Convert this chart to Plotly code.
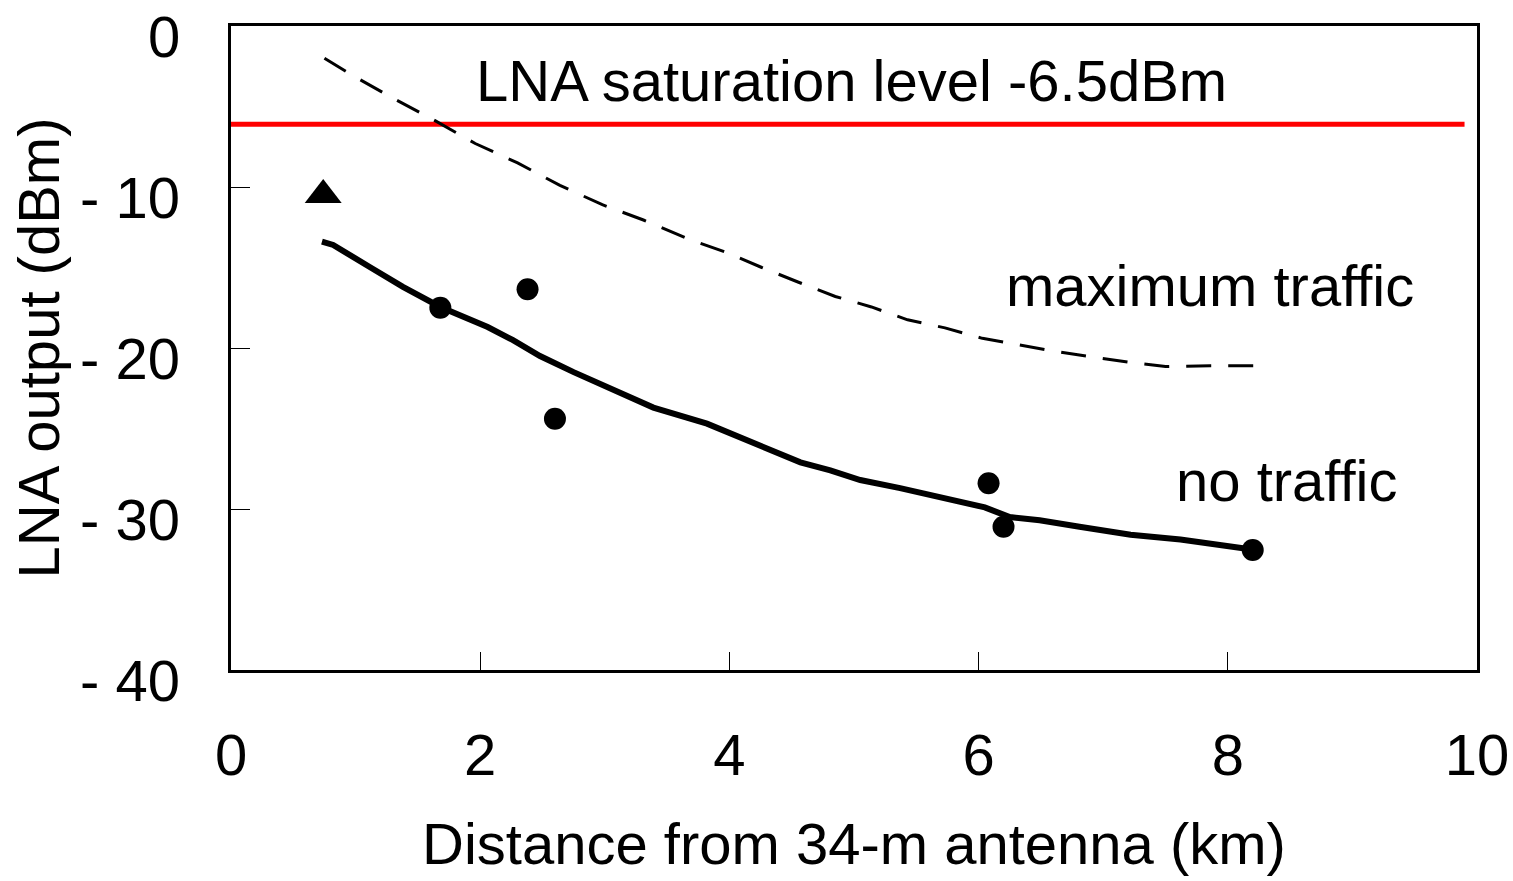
import plotly.graph_objects as go

# ---- data ----
no_traffic_x = [0.73, 0.82, 1.12, 1.38, 1.68, 2.06, 2.26, 2.48, 2.75, 3.02, 3.39, 3.82,
                4.17, 4.33, 4.57, 4.81, 5.05, 5.37, 5.77, 6.05, 6.25, 6.49, 6.81, 7.22,
                7.62, 7.94, 8.18]
no_traffic_y = [-13.4, -13.6, -15.0, -16.2, -17.45, -18.7, -19.5, -20.5, -21.5, -22.4,
                -23.7, -24.7, -25.8, -26.3, -27.1, -27.6, -28.2, -28.7, -29.4, -29.9,
                -30.5, -30.7, -31.1, -31.6, -31.9, -32.2, -32.5]

max_traffic_x = [0.75, 0.96, 1.28, 1.62, 1.96, 2.30, 2.64, 2.98, 3.31, 3.66, 3.99, 4.26,
                 4.55, 4.85, 5.14, 5.43, 5.73, 6.03, 6.32, 6.61, 6.91, 7.22, 7.50, 7.86,
                 8.22]
max_traffic_y = [-2.0, -3.0, -4.4, -5.8, -7.3, -8.5, -9.9, -11.1, -12.05, -13.2, -14.1,
                 -15.0, -15.9, -16.8, -17.45, -18.25, -18.75, -19.4, -19.8, -20.2, -20.55,
                 -20.9, -21.15, -21.1, -21.1]

meas_x = [1.68, 2.38, 2.60, 6.08, 6.20, 8.20]
meas_y = [-17.5, -16.35, -24.4, -28.4, -31.1, -32.55]

tri_x = [0.74]
tri_y = [-10.5]

sat_x = [0.0, 9.9]
sat_level = -6.1

x_ticks = [0, 2, 4, 6, 8, 10]
x_ticktext = ["0", "2", "4", "6", "8", "10"]
y_ticks = [-40, -30, -20, -10, 0]
y_ticktext = ["- 40", "- 30", "- 20", "- 10", "0"]

FONT = "Liberation Sans, Arial, sans-serif"

fig = go.Figure()

fig.add_trace(go.Scatter(x=sat_x, y=[sat_level] * len(sat_x), mode="lines",
                         line=dict(color="#ff0000", width=5), showlegend=False,
                         hoverinfo="skip"))
fig.add_trace(go.Scatter(x=max_traffic_x, y=max_traffic_y, mode="lines",
                         line=dict(color="black", width=3, dash="25px,17px"),
                         showlegend=False))
fig.add_trace(go.Scatter(x=no_traffic_x, y=no_traffic_y, mode="lines",
                         line=dict(color="black", width=6), showlegend=False))
fig.add_trace(go.Scatter(x=meas_x, y=meas_y, mode="markers",
                         marker=dict(symbol="circle", size=22, color="black"),
                         showlegend=False))
fig.add_trace(go.Scatter(x=tri_x, y=tri_y, mode="markers",
                         marker=dict(symbol="triangle-up", size=32, color="black"),
                         showlegend=False))

ann_font = dict(family=FONT, size=58, color="black")
fig.add_annotation(x=4.98, y=-3.4, text="LNA saturation level -6.5dBm", showarrow=False,
                   font=ann_font, xanchor="center", yanchor="middle")
fig.add_annotation(x=7.86, y=-16.1, text="maximum traffic", showarrow=False,
                   font=ann_font, xanchor="center", yanchor="middle")
fig.add_annotation(x=8.47, y=-28.2, text="no traffic", showarrow=False,
                   font=ann_font, xanchor="center", yanchor="middle")

# y tick labels (sit slightly below their ticks, as in the reference)
for v, t in zip(y_ticks, y_ticktext):
    fig.add_annotation(xref="paper", x=0, yref="y", y=v, text=t, showarrow=False,
                       font=ann_font, xanchor="right", yanchor="middle",
                       xshift=-49, yshift=-10)

fig.update_layout(
    width=1513, height=881,
    margin=dict(l=231, r=36, t=26, b=211, autoexpand=False),
    paper_bgcolor="white", plot_bgcolor="white",
    font=dict(family=FONT, size=58, color="black"),
    xaxis=dict(range=[0, 10], tickvals=x_ticks, ticktext=x_ticktext,
               showgrid=False, zeroline=False, showline=True, linecolor="black",
               linewidth=3, mirror=True, ticks="inside", ticklen=18, tickwidth=1,
               tickcolor="black", ticklabelstandoff=32, automargin=False,
               ticklabeloverflow="allow",
               title=dict(text="Distance from 34-m antenna (km)", standoff=38,
                          font=dict(family=FONT, size=58))),
    yaxis=dict(range=[-40, 0], tickvals=y_ticks, showticklabels=False,
               showgrid=False, zeroline=False, showline=True, linecolor="black",
               linewidth=3, mirror=True, ticks="inside", ticklen=19, tickwidth=1,
               tickcolor="black", automargin=False,
               title=dict(text="LNA output (dBm)", standoff=150,
                          font=dict(family=FONT, size=58))),
)

fig.write_html("out.html")
